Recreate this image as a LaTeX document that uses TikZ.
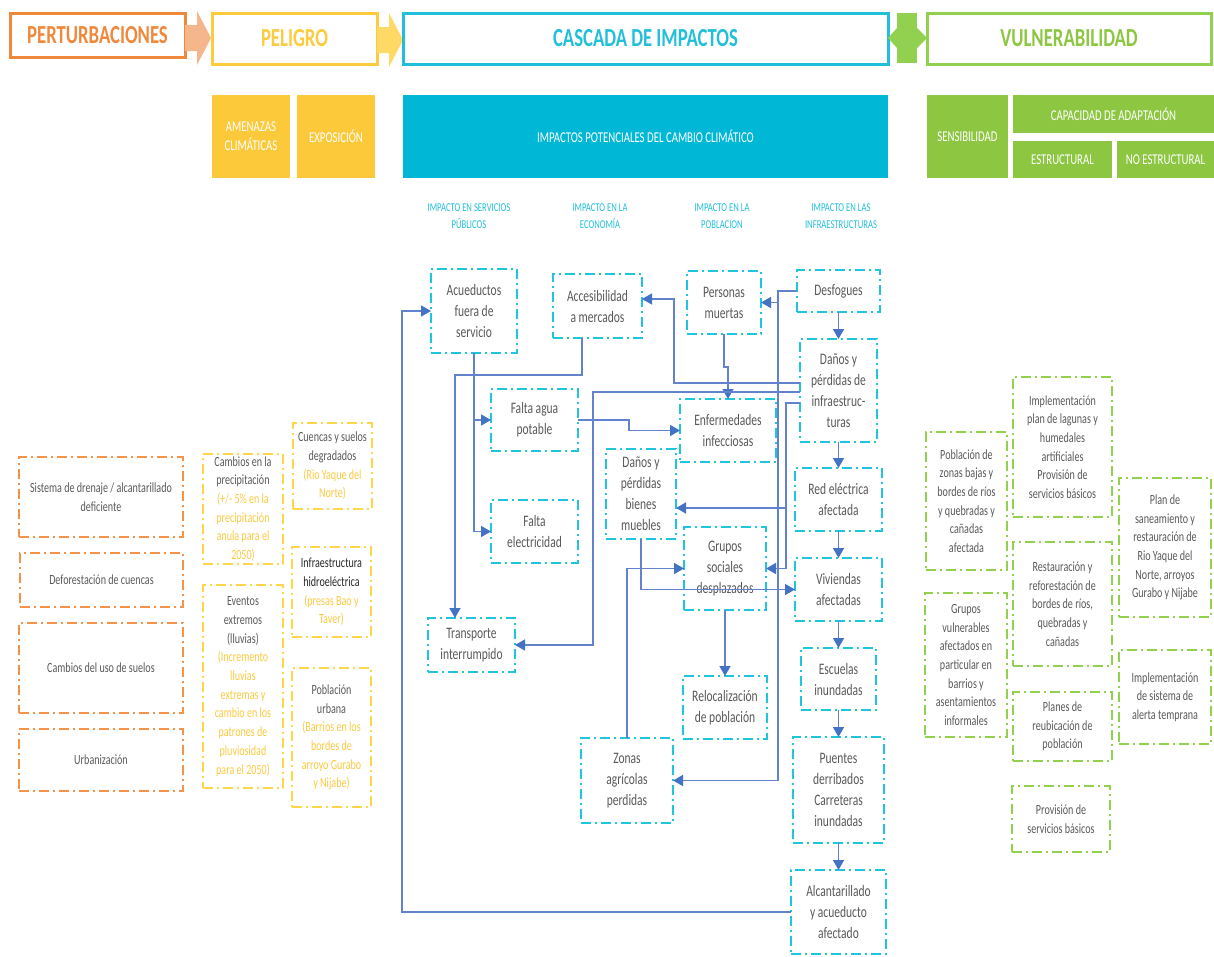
\documentclass[tikz,border=0pt]{standalone}
\usepackage{fontspec}
\setmainfont{Carlito}[FakeStretch=0.72]
\usetikzlibrary{arrows.meta,calc}
\definecolor{corange}{HTML}{F0883C}
\definecolor{cpeach}{HTML}{F6B68C}
\definecolor{cyel}{HTML}{FCCB3E}
\definecolor{cyelarr}{HTML}{FFD966}
\definecolor{cyelfill}{HTML}{FCC93A}
\definecolor{ccyan}{HTML}{22BFDA}
\definecolor{ccyanfill}{HTML}{00B8D6}
\definecolor{cgreen}{HTML}{8DC641}
\definecolor{cgreenb}{HTML}{92D050}
\definecolor{cdashor}{HTML}{F3944A}
\definecolor{cdashye}{HTML}{FFD54A}
\definecolor{cdashcy}{HTML}{1FC4DE}
\definecolor{tgray}{HTML}{595959}
\definecolor{ytext}{HTML}{FBC940}
\definecolor{cline}{HTML}{6283CC}
\definecolor{carrow}{HTML}{4472C4}
\newcommand\BX[7]{\node[#2, minimum width={#5-#3}, minimum height={#6-#4}] (#1) at ({(#3+#5)/2},{(#4+#6)/2}) {#7};}
\newcommand\yt[1]{\textcolor{ytext}{#1}}
\newcommand\bk[1]{\textcolor{black!85}{#1}}
\begin{document}
\begin{tikzpicture}[x=1pt,y=-1pt,
  dbox/.style={draw, line width=2pt, dash pattern=on 10pt off 4pt on 2pt off 4pt, inner sep=0pt, outer sep=0pt, align=center, text=tgray},
  cas/.style={dbox, draw=cdashcy, font=\fontsize{16}{21}\selectfont},
  ora/.style={dbox, draw=cdashor, font=\fontsize{14}{18.7}\selectfont},
  yel/.style={dbox, draw=cdashye, font=\fontsize{14}{18.7}\selectfont},
  grn/.style={dbox, draw=cgreenb, font=\fontsize{14}{18.7}\selectfont},
  hdr/.style={draw, line width=3pt, inner sep=0pt, outer sep=0pt, font=\fontsize{26}{30}\bfseries\selectfont},
  fbox/.style={inner sep=0pt, outer sep=0pt, text=white, align=center, font=\fontsize{15}{19}\selectfont},
  sub/.style={text=ccyan, align=center, font=\fontsize{12}{17}\selectfont},
  con/.style={draw=cline, line width=1.5pt, -{Triangle[width=11pt,length=10pt,color=carrow]}}
]
\useasboundingbox (0,0) rectangle (1214,956);

% header row
\BX{pert}{hdr, draw=corange, text=corange}{10}{13}{185}{57}{PERTURBACIONES}
\fill[cpeach] (185,25) -- (197,25) -- (197,11) -- (211,38) -- (197,65) -- (197,51) -- (185,51) -- cycle;
\BX{pel}{hdr, draw=cyel, text=cyel}{212}{13}{377}{64}{PELIGRO}
\fill[cyelarr] (377,27) -- (389,27) -- (389,13) -- (403,40) -- (389,67) -- (389,53) -- (377,53) -- cycle;
\BX{casc}{hdr, draw=ccyan, text=ccyan}{403}{13}{888}{64}{CASCADA DE IMPACTOS}
\fill[cgreenb] (897,13) rectangle (917,63);
\fill[cgreenb] (897,28) -- (888,38) -- (897,48) -- cycle;
\fill[cgreenb] (917,28) -- (927,38) -- (917,48) -- cycle;
\BX{vul}{hdr, draw=cgreenb, text=cgreen}{927}{13}{1211}{64}{VULNERABILIDAD}

% second row
\BX{amen}{fbox, fill=cyelfill}{212}{95}{290}{178}{AMENAZAS\\CLIMÁTICAS}
\BX{expo}{fbox, fill=cyelfill}{297}{95}{375}{178}{EXPOSICIÓN}
\BX{impot}{fbox, fill=ccyanfill}{403}{95}{888}{178}{IMPACTOS POTENCIALES DEL CAMBIO CLIMÁTICO}
\BX{sens}{fbox, fill=cgreen}{927}{95}{1008}{178}{SENSIBILIDAD}
\BX{capad}{fbox, fill=cgreen}{1013}{95}{1214}{133}{CAPACIDAD DE ADAPTACIÓN}
\BX{estr}{fbox, fill=cgreen}{1013}{141}{1112}{178}{ESTRUCTURAL}
\BX{noestr}{fbox, fill=cgreen}{1117}{141}{1214}{178}{NO ESTRUCTURAL}

% sub headers
\node[sub] (s1) at (469,216) {IMPACTO EN SERVICIOS\\PÚBLICOS};
\node[sub] (s2) at (600,216) {IMPACTO EN LA\\ECONOMÍA};
\node[sub] (s3) at (722,216) {IMPACTO EN LA\\POBLACION};
\node[sub] (s4) at (841,216) {IMPACTO EN LAS\\INFRAESTRUCTURAS};

% cascade boxes
\BX{acu}{cas}{431}{269}{517}{353}{Acueductos\\fuera de\\servicio}
\BX{acc}{cas}{553}{274}{642}{338}{Accesibilidad\\a mercados}
\BX{per}{cas}{687}{271}{761}{334}{Personas\\muertas}
\BX{desf}{cas}{797}{270}{880}{312}{Desfogues}
\BX{dinf}{cas}{800}{339}{877}{442}{Daños y\\pérdidas de\\infraestruc-\\turas}
\BX{red}{cas}{795}{468}{882}{531}{Red eléctrica\\afectada}
\BX{viv}{cas}{795}{558}{882}{621}{Viviendas\\afectadas}
\BX{esc}{cas}{801}{648}{876}{710}{Escuelas\\inundadas}
\BX{pue}{cas}{793}{737}{884}{843}{Puentes\\derribados\\Carreteras\\inundadas}
\BX{alc}{cas}{791}{870}{886}{954}{Alcantarillado\\y acueducto\\afectado}
\BX{fag}{cas}{491}{389}{578}{451}{Falta agua\\potable}
\BX{fel}{cas}{491}{500}{578}{563}{Falta\\electricidad}
\BX{enf}{cas}{680}{399}{776}{462}{Enfermedades\\infecciosas}
\BX{dbm}{cas}{606}{449}{676}{539}{Daños y\\pérdidas\\bienes\\muebles}
\BX{gru}{cas}{684}{527}{766}{610}{Grupos\\sociales\\desplazados}
\BX{tra}{cas}{428}{618}{515}{672}{Transporte\\interrumpido}
\BX{rel}{cas}{683}{676}{767}{739}{Relocalización\\de población}
\BX{zon}{cas}{581}{738}{673}{823}{Zonas\\agrícolas\\perdidas}

% orange boxes
\BX{o1}{ora}{19}{457}{183}{537}{Sistema de drenaje / alcantarillado\\deficiente}
\BX{o2}{ora}{20}{553}{183}{607}{Deforestación de cuencas}
\BX{o3}{ora}{19}{623}{183}{713}{Cambios del uso de suelos}
\BX{o4}{ora}{19}{729}{183}{791}{Urbanización}

% yellow boxes
\BX{y1}{yel}{203}{454}{283}{564}{Cambios en la\\precipitación\\\yt{(+/- 5\% en la}\\\yt{precipitación}\\\yt{anula para el}\\\yt{2050)}}
\BX{y2}{yel}{203}{585}{283}{788}{Eventos\\extremos\\(lluvias)\\\yt{(Incremento}\\\yt{lluvias}\\\yt{extremas y}\\\yt{cambio en los}\\\yt{patrones de}\\\yt{pluviosidad}\\\yt{para el 2050)}}
\BX{y3}{yel}{293}{423}{372}{509}{Cuencas y suelos\\degradados\\\yt{(Rio Yaque del}\\\yt{Norte)}}
\BX{y4}{yel}{292}{547}{371}{637}{\bk{Infraestructura}\\\bk{hidroeléctrica}\\\yt{(presas Bao y}\\\yt{Taver)}}
\BX{y5}{yel}{292}{668}{371}{807}{Población\\urbana\\\yt{(Barrios en los}\\\yt{bordes de}\\\yt{arroyo Gurabo}\\\yt{y Nijabe)}}

% green boxes
\BX{g1}{grn}{926}{432}{1007}{570}{Población de\\zonas bajas y\\bordes  de ríos\\y quebradas y\\cañadas\\afectada}
\BX{g2}{grn}{925}{593}{1007}{737}{Grupos\\vulnerables\\afectados en\\particular en\\barrios y\\asentamientos\\informales}
\BX{g3}{grn}{1013}{377}{1112}{517}{Implementación\\plan de lagunas y\\humedales\\artificiales\\Provisión de\\servicios básicos}
\BX{g4}{grn}{1013}{542}{1112}{666}{Restauración y\\reforestación de\\bordes de ríos,\\quebradas y\\cañadas}
\BX{g5}{grn}{1013}{692}{1112}{761}{Planes de\\reubicación de\\población}
\BX{g6}{grn}{1012}{786}{1110}{852}{Provisión de\\servicios básicos}
\BX{g7}{grn}{1119}{478}{1211}{617}{Plan de\\saneamiento y\\restauración de\\Rio Yaque del\\Norte, arroyos\\Gurabo y Nijabe}
\BX{g8}{grn}{1119}{650}{1211}{744}{Implementación\\de sistema de\\alerta temprana}

% connectors
\coordinate (lx) at (402,0);
\coordinate (c4a) at (455,375);
\coordinate (c5) at (629,0);
\coordinate (h1) at (0,383);
\coordinate (h2) at (0,392);
\coordinate (h3) at (0,403);
\coordinate (a1) at (674,299);
\coordinate (v2) at (593,0);
\coordinate (v3) at (778,0);
\coordinate (v4) at (786,0);
\coordinate (d1) at (0,508);

\draw[con] (alc.west) -- (alc.west -| lx) |- (acu.west);
\draw[con] (acu.south) |- (fag.west);
\draw[con] (acu.south) |- (fel.west);
\draw[con] ([xshift=-15.5pt]acc.south) |- (c4a) -- (c4a |- tra.north);
\draw[con] (fag.east) -- (fag.east -| c5) |- (enf.west);
\draw[con] (per.south) -- ++(0,33) -| (enf.north);
\draw[con] (dinf.west |- h1) -| (a1) -- (a1 -| acc.east);
\draw[con] (dinf.west |- h2) -- (v2 |- h2) |- (tra.east);
\draw[con] (dinf.west |- h3) -- (v4 |- h3) |- (dbm.east |- d1);
\draw[con] (dinf.west |- h3) -- (v4 |- h3) |- (gru.east);
\draw[con] (desf.west) -- (v3 |- desf.west) |- (per.east);
\draw[con] (desf.west) -- (v3 |- desf.west) |- (zon.east);
\draw[con] (dbm.south) |- (viv.west);
\draw[con] (zon.north) |- (gru.west);
\draw[con] (gru.south) -- (rel.north);
\draw[con] (desf.south) -- (dinf.north);
\draw[con] (dinf.south) -- (red.north);
\draw[con] (red.south) -- (viv.north);
\draw[con] (viv.south) -- (esc.north);
\draw[con] (esc.south) -- (pue.north);
\draw[con] (pue.south) -- (alc.north);
\end{tikzpicture}
\end{document}
